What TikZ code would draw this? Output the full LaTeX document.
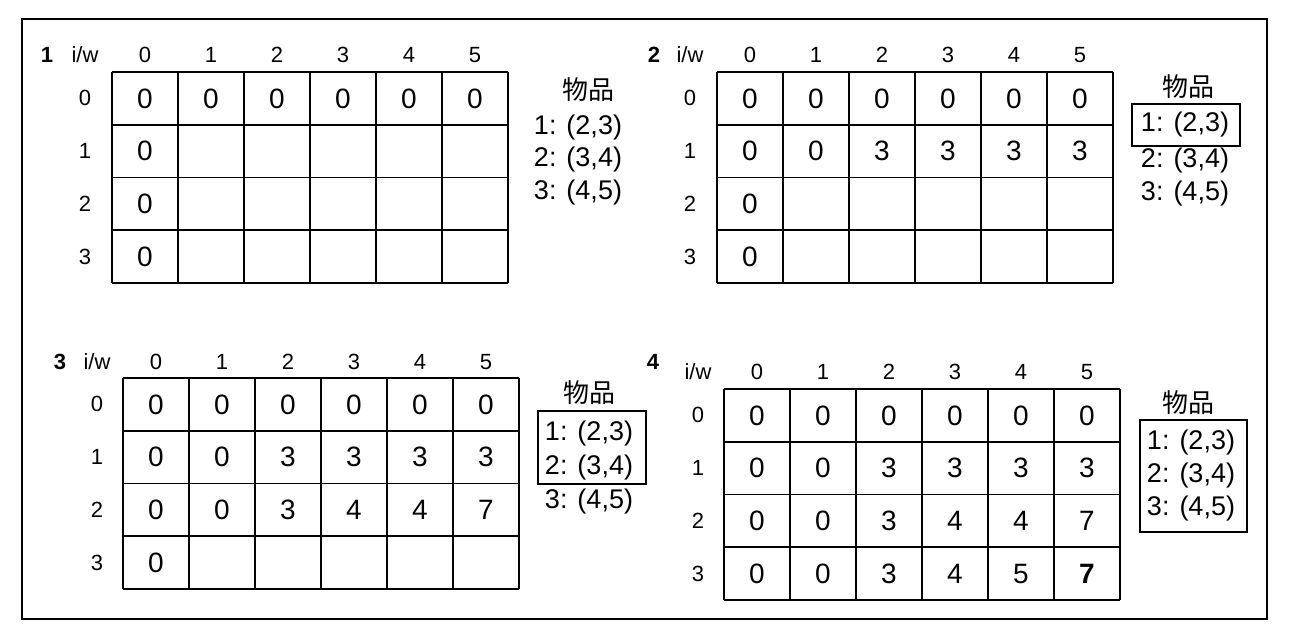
\documentclass[tikz,border=0pt]{standalone}
\usepackage{fontspec}
\setmainfont{Liberation Sans}
\newfontfamily\cjk{Noto Sans CJK SC}
\usepackage{tikz}

\tikzset{
  rule/.style={line width=0.8pt},
  val/.style={font=\fontsize{14}{14}\selectfont},
  lab/.style={font=\fontsize{11}{11}\selectfont},
  tag/.style={font=\fontsize{11}{11}\selectfont\bfseries},
  item/.style={font=\fontsize{13.5}{13.5}\selectfont},
  goods/.style={font=\fontsize{13}{13}\cjk},
  itembox/.style={line width=0.8pt},
}

\begin{document}
\begin{tikzpicture}[x=0.5pt,y=-0.5pt]
\useasboundingbox (0,0) rectangle (1296,634);
\draw[line width=1.3pt] (22,19) rectangle (1267,619);

% table 1
\begin{scope}[shift={(112,72)}]
\foreach \c in {0,...,6} \draw[rule] (66*\c,0) -- (66*\c,211);
\foreach \r in {0,...,4} \draw[rule] (0,52.75*\r) -- (396,52.75*\r);
\node[tag] (n1) at (-65,-17) {1};
\node[lab] (iw1) at (-27,-17) {i/w};
\foreach \c in {0,...,5} \node[lab] (h1-\c) at (33+66*\c,-17) {\c};
\foreach \r in {0,...,3} \node[lab] (l1-\r) at (-27,26.4+52.75*\r) {\r};
\foreach \r/\vals in {0/{0,0,0,0,0,0},1/{0},2/{0},3/{0}}
  \foreach \v [count=\c from 0] in \vals
    \node[val] (t1-\r-\c) at (33+66*\c,26.4+52.75*\r) {\v};
\end{scope}
\node[goods] (g1) at (588,90) {物品};
\node[item] (i1-1) at (578,128) {1: (2,3)};
\node[item] (i1-2) at (578,160) {2: (3,4)};
\node[item] (i1-3) at (578,193) {3: (4,5)};

% table 2
\begin{scope}[shift={(717,72)}]
\foreach \c in {0,...,6} \draw[rule] (66*\c,0) -- (66*\c,211);
\foreach \r in {0,...,4} \draw[rule] (0,52.75*\r) -- (396,52.75*\r);
\node[tag] (n2) at (-63,-17) {2};
\node[lab] (iw2) at (-27,-17) {i/w};
\foreach \c in {0,...,5} \node[lab] (h2-\c) at (33+66*\c,-17) {\c};
\foreach \r in {0,...,3} \node[lab] (l2-\r) at (-27,26.4+52.75*\r) {\r};
\foreach \r/\vals in {0/{0,0,0,0,0,0},1/{0,0,3,3,3,3},2/{0},3/{0}}
  \foreach \v [count=\c from 0] in \vals
    \node[val] (t2-\r-\c) at (33+66*\c,26.4+52.75*\r) {\v};
\end{scope}
\node[goods] (g2) at (1188,87) {物品};
\node[item] (i2-1) at (1185,125) {1: (2,3)};
\node[item] (i2-2) at (1185,161) {2: (3,4)};
\node[item] (i2-3) at (1185,194) {3: (4,5)};
\draw[itembox] (1132,104) rectangle (1240,146);

% table 3
\begin{scope}[shift={(123,378)}]
\foreach \c in {0,...,6} \draw[rule] (66*\c,0) -- (66*\c,211);
\foreach \r in {0,...,4} \draw[rule] (0,52.75*\r) -- (396,52.75*\r);
\node[tag] (n3) at (-63,-16) {3};
\node[lab] (iw3) at (-26,-16) {i/w};
\foreach \c in {0,...,5} \node[lab] (h3-\c) at (33+66*\c,-16) {\c};
\foreach \r in {0,...,3} \node[lab] (l3-\r) at (-26,26.4+52.75*\r) {\r};
\foreach \r/\vals in {0/{0,0,0,0,0,0},1/{0,0,3,3,3,3},2/{0,0,3,4,4,7},3/{0}}
  \foreach \v [count=\c from 0] in \vals
    \node[val] (t3-\r-\c) at (33+66*\c,26.4+52.75*\r) {\v};
\end{scope}
\node[goods] (g3) at (589,393) {物品};
\node[item] (i3-1) at (589,433) {1: (2,3)};
\node[item] (i3-2) at (589,467) {2: (3,4)};
\node[item] (i3-3) at (589,501) {3: (4,5)};
\draw[itembox] (538,411) rectangle (646,484);

% table 4
\begin{scope}[shift={(724,389)}]
\foreach \c in {0,...,6} \draw[rule] (66*\c,0) -- (66*\c,211);
\foreach \r in {0,...,4} \draw[rule] (0,52.75*\r) -- (396,52.75*\r);
\node[tag] (n4) at (-71,-27) {4};
\node[lab] (iw4) at (-26,-17) {i/w};
\foreach \c in {0,...,5} \node[lab] (h4-\c) at (33+66*\c,-17) {\c};
\foreach \r in {0,...,3} \node[lab] (l4-\r) at (-26,26.4+52.75*\r) {\r};
\foreach \r/\vals in {0/{0,0,0,0,0,0},1/{0,0,3,3,3,3},2/{0,0,3,4,4,7},3/{0,0,3,4,5,\textbf{7}}}
  \foreach \v [count=\c from 0] in \vals
    \node[val] (t4-\r-\c) at (33+66*\c,26.4+52.75*\r) {\v};
\end{scope}
\node[goods] (g4) at (1188,403) {物品};
\node[item] (i4-1) at (1191,442) {1: (2,3)};
\node[item] (i4-2) at (1191,475) {2: (3,4)};
\node[item] (i4-3) at (1191,508) {3: (4,5)};
\draw[itembox] (1140,420) rectangle (1247,532);
\end{tikzpicture}
\end{document}
